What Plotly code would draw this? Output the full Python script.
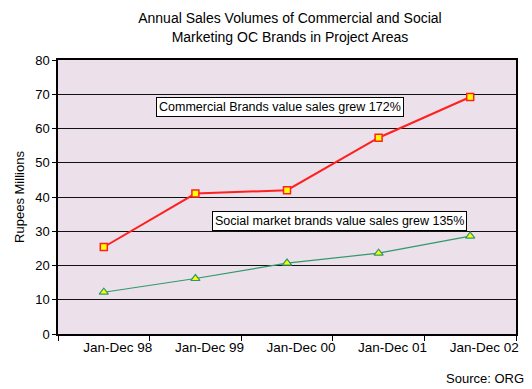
import plotly.graph_objects as go

# Yearly sales values (Rupees Millions)
periods = ["Jan-Dec 98", "Jan-Dec 99", "Jan-Dec 00", "Jan-Dec 01", "Jan-Dec 02"]
commercial = [25.4, 41.0, 42.0, 57.3, 69.2]
social = [12.2, 16.2, 20.7, 23.6, 28.6]
y_ticks = [0, 10, 20, 30, 40, 50, 60, 70, 80]

# each period is drawn at the centre of its category slot
xpos = [i + 0.5 for i in range(len(periods))]
bounds = list(range(len(periods) + 1))

FONT = "Liberation Sans, Arial, sans-serif"

fig = go.Figure()
fig.add_trace(go.Scatter(
    x=xpos, y=commercial, mode="lines+markers", name="Commercial",
    line=dict(color="#FF2020", width=2),
    marker=dict(symbol="square", size=7, color="#FFFF00",
                line=dict(color="#FF2020", width=1.5)),
))
fig.add_trace(go.Scatter(
    x=xpos, y=social, mode="lines+markers", name="Social",
    line=dict(color="#2E9A6A", width=1.2),
    marker=dict(symbol="triangle-up", size=8, color="#FFFF00",
                line=dict(color="#2E9A6A", width=1.2)),
))

fig.update_layout(
    width=532, height=389,
    margin=dict(l=58, r=16, t=60, b=55),
    paper_bgcolor="white",
    plot_bgcolor="#ECE0EA",
    showlegend=False,
    font=dict(family=FONT, size=13, color="black"),
    title=dict(
        text="Annual Sales Volumes of Commercial and Social<br>Marketing OC Brands in Project Areas",
        x=0.545, xanchor="center", y=0.94, yanchor="top",
        font=dict(family=FONT, size=14, color="black"),
    ),
    xaxis=dict(
        range=[0, len(periods)], tickvals=xpos, ticktext=periods,
        ticks="", ticklabelshift=14,
        showgrid=False, zeroline=False,
        showline=True, linecolor="black", linewidth=1.5, mirror=True,
        minor=dict(tickvals=bounds, ticks="outside", ticklen=5,
                   tickcolor="black", showgrid=False),
        tickfont=dict(size=13.5),
    ),
    yaxis=dict(
        range=[0, 80], tickvals=y_ticks,
        ticks="outside", ticklen=4, tickcolor="black",
        showgrid=True, gridcolor="#111111", gridwidth=1,
        zeroline=False,
        showline=True, linecolor="black", linewidth=1.5, mirror=True,
        title=dict(text="Rupees Millions", font=dict(size=13), standoff=8),
        tickfont=dict(size=13),
    ),
    annotations=[
        dict(x=2.42, y=66.4, xref="x", yref="y", showarrow=False,
             text="Commercial Brands value sales grew 172%",
             font=dict(size=12.5), bgcolor="white",
             bordercolor="black", borderwidth=1, borderpad=2),
        dict(x=3.07, y=32.9, xref="x", yref="y", showarrow=False,
             text="Social market brands value sales grew 135%",
             font=dict(size=12.5), bgcolor="white",
             bordercolor="black", borderwidth=1, borderpad=2),
        dict(x=1.0, y=0, xref="paper", yref="paper", yshift=-54,
             xanchor="right", yanchor="bottom", xshift=10, showarrow=False,
             text="Source: ORG", font=dict(size=13)),
    ],
)

fig.write_html("out.html")
